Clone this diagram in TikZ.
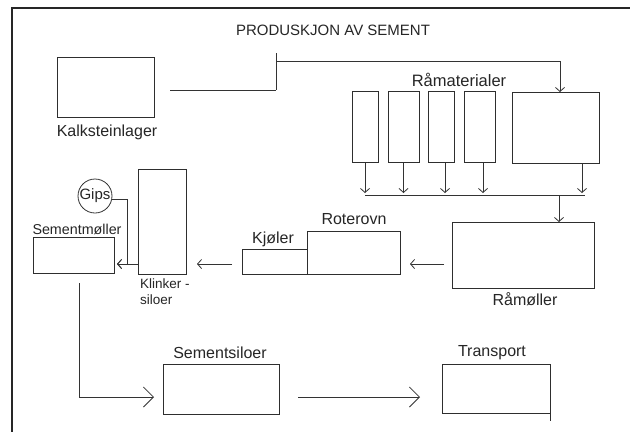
\documentclass[tikz,border=0pt]{standalone}
\usepackage{fontspec}
\setmainfont{Liberation Sans}
\usetikzlibrary{arrows.meta}
\begin{document}
\begin{tikzpicture}[x=1pt,y=-1pt,
  ln/.style={draw=black!80, line width=0.8pt},
  box/.style={draw=black!82, line width=1pt, rectangle, inner sep=0pt, outer sep=0pt, anchor=north west},
  lbl/.style={text=black!85, inner sep=0pt, font=\fontsize{16}{19}\selectfont},
  sm/.style={-{Straight Barb[length=4pt,width=9pt]}},
  big/.style={-{Straight Barb[length=10pt,width=20pt]}}
]
\useasboundingbox (0,0) rectangle (630,432);
\fill[white] (0,0) rectangle (630,432);
\coordinate (fr1) at (630,8);
\coordinate (fr2) at (12,8);
\coordinate (fr3) at (12,432);
\draw[draw=black!85, line width=1.3pt] (fr1) -- (fr2) -- (fr3);

% title
\node[lbl, font=\fontsize{15}{18}\selectfont] (title) at (333,30) {PRODUSKJON AV SEMENT};

% boxes
\node[box, minimum width=97pt, minimum height=60pt] (kalk) at (57,57) {};
\node[box, minimum width=26pt, minimum height=71pt] (raw1) at (352,91) {};
\node[box, minimum width=31pt, minimum height=71pt] (raw2) at (388,91) {};
\node[box, minimum width=26pt, minimum height=71pt] (raw3) at (428,91) {};
\node[box, minimum width=31pt, minimum height=71pt] (raw4) at (464,91) {};
\node[box, minimum width=87pt, minimum height=71pt] (raw5) at (512,92) {};
\node[box, minimum width=142pt, minimum height=66pt] (raam) at (452,222) {};
\node[box, minimum width=93pt, minimum height=43pt] (rot) at (307,231) {};
\node[box, minimum width=65pt, minimum height=25pt] (kjol) at (242,249) {};
\node[box, minimum width=48pt, minimum height=105pt] (klink) at (138,169) {};
\node[box, minimum width=81pt, minimum height=36pt] (semm) at (33,237) {};
\node[box, minimum width=116pt, minimum height=50pt] (sil) at (163,364) {};
\node[box, minimum width=108pt, minimum height=49pt] (trans) at (442,364) {};
\node[draw=black!80, line width=0.8pt, circle, minimum size=34pt, inner sep=0pt,
      text=black!85, font=\fontsize{15}{18}\selectfont] (gips) at (95,196) {Gips};

% labels
\node[lbl] (lkalk) at (107,132) {Kalksteinlager};
\node[lbl, font=\fontsize{16.5}{19}\selectfont] (lraw) at (459,80) {Råmaterialer};
\node[lbl] (lraam) at (525,299) {Råmøller};
\node[lbl] (lrot) at (354,219) {Roterovn};
\node[lbl] (lkjol) at (273,239) {Kjøler};
\node[lbl, font=\fontsize{14.3}{17}\selectfont] (lsemm) at (77,229) {Sementmøller};
\node[lbl, font=\fontsize{13.5}{16}\selectfont, anchor=north west, align=left] (lklink) at (140,279) {Klinker -\\siloer};
\node[lbl] (lsil) at (220,353) {Sementsiloer};
\node[lbl] (ltrans) at (492,353) {Transport};

% Kalksteinlager -> Raamaterialer
\coordinate (k1) at (276,90);
\coordinate (k2) at (276,61);
\coordinate (ktick) at (276,53);
\draw[ln, shorten <=16pt] (kalk.east |- k1) -- (k1);
\draw[ln] (ktick) -- (k1);
\draw[ln, sm] (k2) -| ([xshift=4.5pt]raw5.north);

% raw materials to collector
\coordinate (busL) at (365,195);
\coordinate (busR) at (585,195);
\coordinate (busT) at (0,193);
\draw[ln, sm, shorten <=1pt] (raw1.south) -- (raw1.south |- busT);
\draw[ln, sm, shorten <=1pt] (raw2.south) -- (raw2.south |- busT);
\draw[ln, sm, shorten <=1pt] ([xshift=4pt]raw3.south) -- ([xshift=4pt]raw3.south |- busT);
\draw[ln, sm, shorten <=1pt] ([xshift=3.5pt]raw4.south) -- ([xshift=3.5pt]raw4.south |- busT);
\draw[ln, sm, shorten <=1pt] ([xshift=26.5pt]raw5.south) -- ([xshift=26.5pt]raw5.south |- busT);
\draw[ln] (busL) -- (busR);
\draw[ln, sm] ([xshift=36pt]raam.north |- busL) -- ([xshift=36pt]raam.north);

% main flow
\coordinate (mid) at (0,264);
\draw[ln, sm, shorten <=8pt, shorten >=10pt] (raam.west |- mid) -- (rot.east |- mid);
\draw[ln, sm, shorten <=10pt, shorten >=11pt] (kjol.west |- mid) -- (klink.east |- mid);
\draw[ln, sm, shorten >=3pt] (klink.west |- mid) -- (semm.east |- mid);
\coordinate (gd) at (127,199);
\draw[ln, sm, shorten >=3pt] (gips.east |- gd) -- (gd) -- (gd |- mid) -- (semm.east |- mid);

% bottom flow
\coordinate (bot) at (0,397);
\draw[ln, big, shorten >=9pt] ([xshift=5.5pt,yshift=-10pt]semm.south) |- (sil.west |- bot);
\draw[ln, big, shorten <=19pt, shorten >=22pt] (sil.east |- bot) -- (trans.west |- bot);
\draw[draw=black!82, line width=1pt] (trans.south east) -- ++(0,8);
\end{tikzpicture}
\end{document}
